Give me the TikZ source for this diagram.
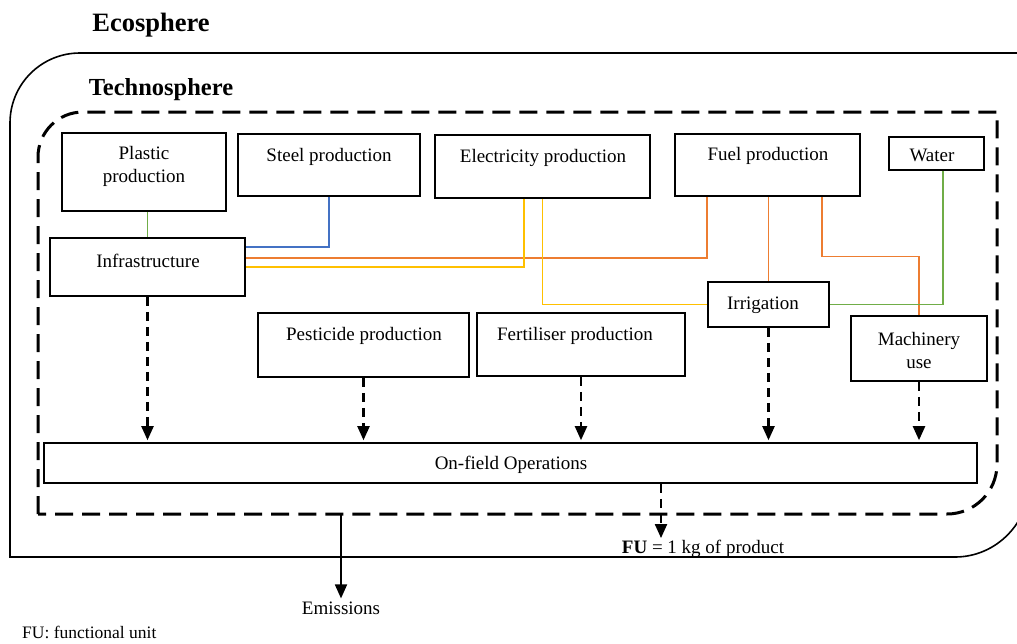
\documentclass[tikz,border=0pt]{standalone}
\usepackage{fontspec}
\setmainfont{Liberation Serif}
\usetikzlibrary{arrows.meta}
\definecolor{cblue}{HTML}{4472C4}
\definecolor{corange}{HTML}{ED7D31}
\definecolor{cyellow}{HTML}{FFC000}
\definecolor{cgreen}{HTML}{70AD47}
\begin{document}
\begin{tikzpicture}[x=1pt,y=-1pt,
  box/.style={draw, line width=1.6pt, inner sep=0pt},
  txt/.style={font=\fontsize{19}{23}\selectfont, align=center, inner sep=0pt},
  title/.style={font=\fontsize{25}{30}\selectfont\bfseries, inner sep=0pt},
  link/.style={line width=1.3pt},
  feed/.style={line width=2.2pt, dash pattern=on 9pt off 6pt, shorten >=2pt, -{Triangle[length=14pt,width=12pt]}},
  sphere/.style={line width=1.6pt},
  techno/.style={line width=3pt, dash pattern=on 18pt off 9pt},
]
\useasboundingbox (0,0) rectangle (1017,643);
\clip (0,0) rectangle (1017,643);

% spheres
\draw[sphere] (10,557) -- (10,123) to[out=90,in=180] (80,53) -- (1030,53) -- (1030,480) to[out=-90,in=0] (955,557) -- cycle;
\draw[techno] (38,514) -- (38,157) to[out=90,in=180] (83,112) -- (997,112) -- (997,464) to[out=-90,in=0] (947,514) -- cycle;
\node[title, font=\fontsize{26.5}{30}\selectfont\bfseries] (eco) at (151,25) {Ecosphere};
\node[title, font=\fontsize{24.5}{30}\selectfont\bfseries] (tech) at (161,90) {Technosphere};

% boxes
\node[box, minimum width=164, minimum height=78] (plastic) at (144,172) {};
\node[txt] (plasticT) at (144,166) {Plastic\\production};
\node[box, minimum width=182, minimum height=62] (steel) at (329,165) {};
\node[txt] (steelT) at (329,157) {Steel production};
\node[box, minimum width=215, minimum height=63] (elec) at (542.5,166.5) {};
\node[txt] (elecT) at (543,158) {Electricity production};
\node[box, minimum width=185, minimum height=62] (fuel) at (767.5,165) {};
\node[txt] (fuelT) at (768,156) {Fuel production};
\node[box, minimum width=95, minimum height=33] (water) at (936.5,153.5) {};
\node[txt] (waterT) at (932,155) {Water};
\node[box, minimum width=195, minimum height=58] (infra) at (147.5,267) {};
\node[txt] (infraT) at (148,261) {Infrastructure};
\node[box, minimum width=211, minimum height=64] (pest) at (363.5,345) {};
\node[txt] (pestT) at (364,336) {Pesticide production};
\node[box, minimum width=208, minimum height=63] (fert) at (581,344.5) {};
\node[txt] (fertT) at (575,336) {Fertiliser production};
\node[box, minimum width=121, minimum height=45] (irr) at (768.5,304.5) {};
\node[txt] (irrT) at (763,305) {Irrigation};
\node[box, minimum width=136, minimum height=65] (mach) at (919,348.5) {};
\node[txt] (machT) at (919,350) {Machinery\\use};
\node[box, minimum width=933, minimum height=40] (onfield) at (510.5,463) {};
\node[txt] (onfieldT) at (511,465) {On-field Operations};

% coloured links
\draw[link, cgreen] (plastic.south -| infra.north) -- (infra.north);
\draw[link, cblue] (steel.south) |- ([yshift=20pt]infra.east);
\draw[link, corange] ([xshift=-60.5pt]fuel.south) |- ([yshift=9pt]infra.east);
\draw[link, cyellow] ([xshift=-18.5pt]elec.south) |- (infra.east);
\draw[link, cyellow] (elec.south) |- (irr.west);
\draw[link, corange] (fuel.south -| irr.north) -- (irr.north);
\draw[link, corange] ([xshift=54.5pt]fuel.south) -- ++(0,60) -| (mach.north);
\draw[link, cgreen] ([xshift=6.5pt]water.south) |- (irr.east);

% feeds into on-field operations
\draw[feed] (infra.south) -- (infra.south |- onfield.north);
\draw[feed] (pest.south) -- (pest.south |- onfield.north);
\draw[feed] (fert.south) -- (fert.south |- onfield.north);
\draw[feed] (irr.south) -- (irr.south |- onfield.north);
\draw[feed] (mach.south) -- (mach.south |- onfield.north);

% outputs
\node[txt] (fu) at (703,549) {\textbf{FU} = 1 kg of product};
\draw[feed] ([xshift=150.5pt]onfield.south) -- ([xshift=150.5pt]onfield.south |- fu.north);
\coordinate (emit) at (341,514);
\node[txt] (emis) at (341,608) {Emissions};
\draw[line width=1.8pt, shorten >=3pt, -{Triangle[length=14pt,width=12pt]}] (emit) -- (emit |- emis.north);
\node[txt, font=\fontsize{17.5}{20}\selectfont, anchor=west] (note) at (22,632) {FU: functional unit};
\end{tikzpicture}
\end{document}
